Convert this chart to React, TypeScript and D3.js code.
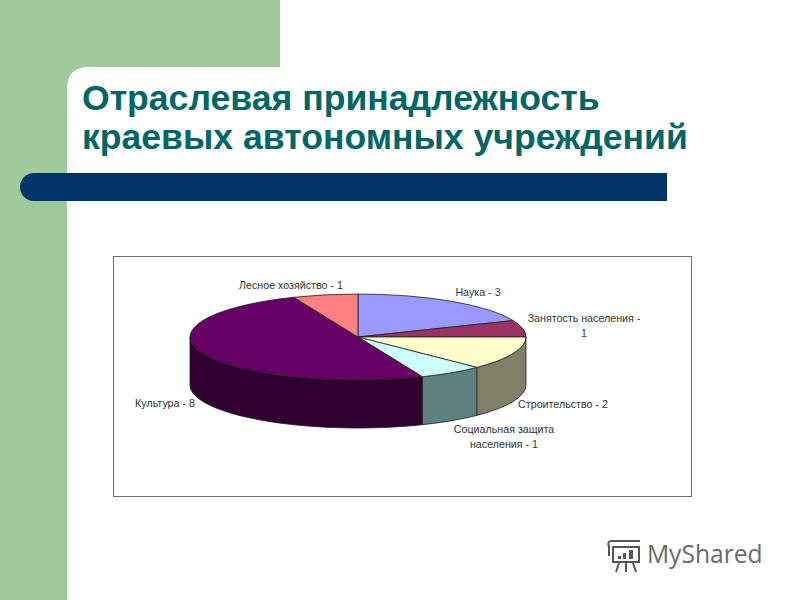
import * as d3 from 'd3';

const categories = ['Наука', 'Занятость населения', 'Строительство', 'Социальная защита населения', 'Культура', 'Лесное хозяйство'];
const values = [3, 1, 2, 1, 8, 1];
const topColors = ['#9999ff', '#993366', '#ffffcc', '#ccffff', '#660066', '#ff8080'];
const sideColors = ['#6b6bb3', '#6b2447', '#808066', '#5f8080', '#300030', '#b35a5a'];
const labelLines = [
  ['Наука - 3'],
  ['Занятость населения -', '1'],
  ['Строительство - 2'],
  ['Социальная защита', 'населения - 1'],
  ['Культура - 8'],
  ['Лесное хозяйство - 1'],
];
const titleLines = ['Отраслевая принадлежность', 'краевых автономных учреждений'];

// label anchors by slice, same order as categories
const labelPos = [
  [478, 296],
  [584, 322],
  [563, 408],
  [504, 433],
  [165, 407],
  [291, 289],
];

const GREEN = '#9fca9c';
const NAVY = '#003366';
const TEAL = '#006666';
const FONT = '"Liberation Sans", Arial, sans-serif';

const cx = 358;
const cy = 337;
const rx = 168;
const ry = 43;
const depth = 48;

const slices = d3.pie<number>().sort(null)(values);
const arc = d3.arc<d3.PieArcDatum<number>>().innerRadius(0).outerRadius(rx);

const px = (a: number) => cx + rx * Math.sin(a);
const py = (a: number) => cy - ry * Math.cos(a);

// only the front half of the rim shows (90deg to 270deg clockwise from top)
function sidePath(d: d3.PieArcDatum<number>) {
  const a0 = Math.max(d.startAngle, Math.PI / 2);
  const a1 = Math.min(d.endAngle, (Math.PI * 3) / 2);
  if (a1 <= a0) return null;
  return (
    `M${px(a0)},${py(a0)}` +
    `A${rx},${ry} 0 0 1 ${px(a1)},${py(a1)}` +
    `L${px(a1)},${py(a1) + depth}` +
    `A${rx},${ry} 0 0 0 ${px(a0)},${py(a0) + depth}Z`
  );
}

export default function App() {
  return (
    <svg width={800} height={600} style={{ position: 'absolute', left: 0, top: 0, background: '#fff' }}>
      {/* slide background */}
      <rect x={0} y={0} width={280} height={90} fill={GREEN} />
      <rect x={0} y={0} width={67} height={600} fill={GREEN} />
      <path d="M67,600V89Q67,67 89,67H280V90H800V600Z" fill="#fff" />
      <path d="M34,173H667V201H34A14,14 0 0 1 34,173Z" fill={NAVY} />

      {/* title */}
      {titleLines.map((t, i) => (
        <text key={t} x={82} y={110 + i * 39} fill={TEAL} fontFamily={FONT} fontWeight={700} fontSize={35.6}>
          {t}
        </text>
      ))}

      {/* chart frame */}
      <rect x={113.5} y={256.5} width={578} height={240} fill="#fff" stroke="#6e6e6e" strokeWidth={1} />

      {/* pie rim */}
      {slices.map((d, i) => {
        const p = sidePath(d);
        return p ? <path key={categories[i]} d={p} fill={sideColors[i]} stroke="#222" strokeWidth={0.8} /> : null;
      })}

      {/* pie top, flattened into an ellipse */}
      <g transform={`translate(${cx},${cy}) scale(1,${ry / rx})`}>
        {slices.map((d, i) => (
          <path
            key={categories[i]}
            d={arc(d) ?? ''}
            fill={topColors[i]}
            stroke="#222"
            strokeWidth={0.8}
            vectorEffect="non-scaling-stroke"
          />
        ))}
      </g>

      {/* labels */}
      {labelLines.map((lines, i) =>
        lines.map((t, j) => (
          <text
            key={t}
            x={labelPos[i][0]}
            y={labelPos[i][1] + j * 15}
            textAnchor="middle"
            fill="#333"
            fontFamily={FONT}
            fontSize={10.7}
          >
            {t}
          </text>
        ))
      )}

      {/* watermark */}
      <g fill="none" stroke="#555" strokeWidth={2}>
        <path d="M611,541H640M611,541a3,3 0 0 0 -2,5V556M613,547H639V562H613Z" />
        <path d="M619,563L616,572M626,563V572M633,563L636,572" />
      </g>
      <g fill="#555">
        <rect x={618} y={556} width={3} height={3} />
        <rect x={623} y={553} width={3} height={6} />
        <rect x={629} y={550} width={4} height={9} />
      </g>
      <text x={647} y={563} fill="#6a6a6a" fontFamily='"Open Sans", sans-serif' fontSize={24.6}>
        MyShared
      </text>
    </svg>
  );
}
